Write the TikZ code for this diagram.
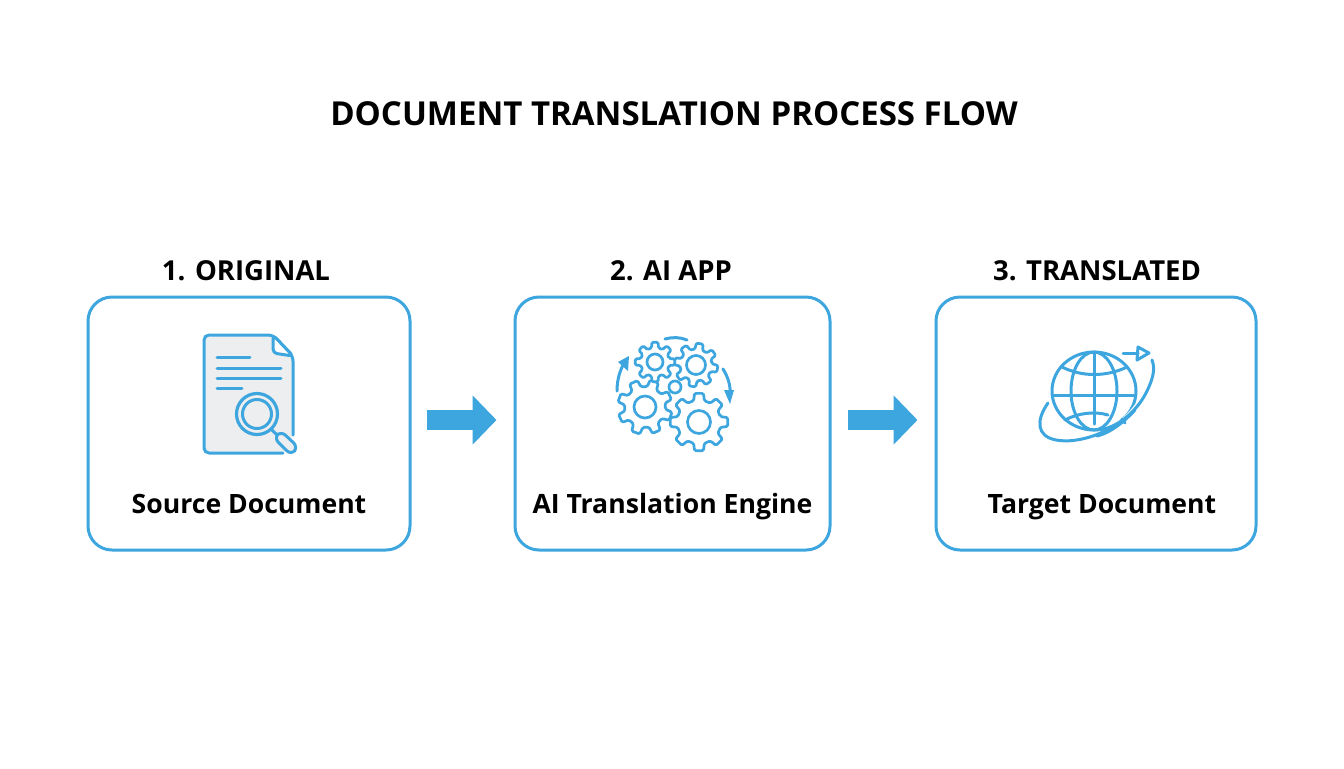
\documentclass[tikz,border=0pt]{standalone}
\usepackage{fontspec}
\setmainfont{Open Sans}
\usetikzlibrary{arrows.meta,calc}
\definecolor{flowblue}{HTML}{3EA6DF}
\definecolor{docgray}{HTML}{EDEEEF}
\tikzset{
  stagebox/.style={draw=flowblue,line width=1.5pt,rounded corners=12pt,fill=white,minimum height=126.5pt,inner sep=0pt},
  heading/.style={font=\fontsize{13.75}{17}\selectfont\bfseries,text=black,inner sep=0pt,anchor=base},
  titletext/.style={font=\fontsize{16.5}{20}\selectfont\bfseries,text=black,inner sep=0pt,anchor=base},
  caption/.style={font=\fontsize{13.3}{16}\selectfont\bfseries,text=black,inner sep=0pt,anchor=base},
  blockarrow/.style={draw=flowblue,line width=10pt,-{Triangle[length=12pt,width=24pt]}},
  icon/.style={draw=flowblue,line width=1.5pt,line cap=round,line join=round},
  thinicon/.style={draw=flowblue,line width=1.35pt,line cap=round,line join=round,fill=white},
}
\newcommand{\gearshape}[6]{% cx cy outer root holeR rotation
  \begin{scope}[shift={(#1,#2)}]
    \pgfmathsetmacro{\gs}{45}
    \draw[thinicon,rounded corners=.7pt] (#6-0.31*\gs:#4)
      \foreach \k in {0,...,7}{
        -- (#6+\k*\gs-0.20*\gs:#3) -- (#6+\k*\gs+0.20*\gs:#3)
        -- (#6+\k*\gs+0.31*\gs:#4) -- (#6+\k*\gs+0.69*\gs:#4)
      } -- cycle;
    \draw[thinicon] (0,0) circle[radius=#5];
  \end{scope}
}
\begin{document}
\begin{tikzpicture}[x=0.5pt,y=-0.5pt]
\useasboundingbox (0,0) rectangle (1344,768);
\fill[white] (0,0) rectangle (1344,768);

\node[titletext] (title) at (674,125) {DOCUMENT TRANSLATION PROCESS FLOW};

\node[stagebox,minimum width=161pt] (box1) at (249,423.5) {};
\node[stagebox,minimum width=157.5pt] (box2) at (672.5,423.5) {};
\node[stagebox,minimum width=160pt] (box3) at (1096,423.5) {};

\node[heading] (head1) at (246,280.5) {1. ORIGINAL};
\node[heading] (head2) at (671,280.5) {2. AI APP};
\node[heading] (head3) at (1097,280.5) {3. TRANSLATED};

\node[caption] (cap1) at (249,513) {Source Document};
\node[caption] (cap2) at (672.5,513) {AI Translation Engine};
\node[caption] (cap3) at (1102,513) {Target Document};

\draw[blockarrow,shorten <=7.5pt,shorten >=8.5pt] ([yshift=1.75pt]box1.east) -- ([yshift=1.75pt]box2.west);
\draw[blockarrow,shorten <=8pt,shorten >=8.5pt] ([yshift=1.75pt]box2.east) -- ([yshift=1.75pt]box3.west);

% document icon
\draw[icon,fill=docgray,rounded corners=2.5pt]
  (283,453) -- (204,453) -- (204,335) -- (273,335) -- (293,356) -- (293,435);
\draw[icon,fill=white,rounded corners=2pt] (273,335) -- (273,353) -- (293,356) -- cycle;
\foreach \yy/\xx in {357/250,368/281,378/281,388/242}
  \draw[icon] (217,\yy) -- (\xx,\yy);
\draw[icon,fill=docgray,line width=1.6pt] (257,414) circle[radius=20.5];
\draw[icon,fill=docgray] (257,414) circle[radius=14.5];
\draw[icon] (272,430) -- (277,435);
\draw[icon,fill=docgray,rounded corners=3pt] (274,438) -- (281,431) -- (298,447) -- (291,455) -- cycle;

% gears icon
\gearshape{699}{422}{29}{22}{11.5}{0}
\gearshape{645}{407}{27.5}{20.5}{11}{20}
\gearshape{696}{365}{22}{16}{9.5}{10}
\gearshape{655}{362}{20}{14.5}{8}{0}
\draw[thinicon] (675,387) circle[radius=6];
\draw[icon] (665,339) .. controls (672,337) and (680,337) .. (687,340);
\draw[icon] (617,391) .. controls (617,380) and (620,368) .. (626,361);
\fill[flowblue] (629,356) -- (628,371) -- (618,362) -- cycle;
\draw[icon] (723,369) .. controls (728,377) and (731,386) .. (730,396);
\fill[flowblue] (730,404) -- (724,390) -- (734,390) -- cycle;

% globe icon
\draw[icon] (1094,391) ellipse[x radius=42,y radius=39];
\draw[icon] (1094,391) ellipse[x radius=23,y radius=39];
\draw[icon] (1094,352) -- (1094,424);
\draw[icon] (1053,395) -- (1134,395);
\draw[icon] (1062,367) .. controls (1082,377) and (1106,377) .. (1127,367);
\draw[icon] (1065,420) .. controls (1078,413) and (1095,411) .. (1108,415);
\draw[white,line width=3.4pt] (1100,436) .. controls (1122,428) and (1140,408) .. (1150,385);
\draw[icon] (1048,403) .. controls (1036,420) and (1036,436) .. (1056,440)
  .. controls (1082,445) and (1128,428) .. (1146,393) .. controls (1152,381) and (1156,370) .. (1152,360);
\draw[icon] (1097,436) .. controls (1110,433) and (1124,422) .. (1135,410);
\draw[icon] (1122,419) -- (1125,423);
\draw[icon] (1123,353) -- (1138,353);
\draw[icon] (1138,347) -- (1149,353) -- (1137,360) -- cycle;
\end{tikzpicture}
\end{document}
